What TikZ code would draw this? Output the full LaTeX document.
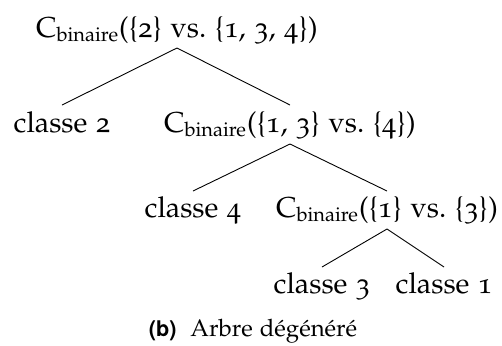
\documentclass[tikz,border=0pt]{standalone}
\usepackage{fontspec}
\newfontfamily\capsans{TeX Gyre Heros}
\usepackage[T1]{fontenc}
\usepackage[osf]{mathpazo}
\begin{document}
\begin{tikzpicture}[x=0.5pt,y=-0.5pt,
  lbl/.style={inner sep=0pt, anchor=base, font=\fontsize{14.4}{17}\selectfont},
  captext/.style={inner sep=0pt, anchor=base, font=\fontsize{12}{14}\selectfont},
  edge/.style={line width=0.45pt}]
\useasboundingbox (0,0) rectangle (502,345);
\newcommand{\cbin}{C$_{\mathrm{binaire}}$}
\node[lbl] (r) at (177,37) {\cbin(\{2\} vs.\ \{1, 3, 4\})};
\node[lbl] (c2) at (62,132) {classe 2};
\node[lbl] (n2) at (290,132) {\cbin(\{1, 3\} vs.\ \{4\})};
\node[lbl] (c4) at (193,217) {classe 4};
\node[lbl] (n3) at (387,217) {\cbin(\{1\} vs.\ \{3\})};
\node[lbl] (c3) at (322,293) {classe 3};
\node[lbl] (c1) at (444,293) {classe 1};
\node[captext] (caption) at (253,336) {{\capsans\bfseries\fontsize{10.8}{13}\selectfont (b)}\ \ Arbre d\'eg\'en\'er\'e};
\draw[edge] ([yshift=-5.5pt]r.base) -- ([yshift=13.5pt]c2.base);
\draw[edge] ([yshift=-5.5pt]r.base) -- ([yshift=13.5pt]n2.base);
\draw[edge] ([yshift=-6pt]n2.base) -- ([yshift=13pt]c4.base);
\draw[edge] ([yshift=-6pt]n2.base) -- ([yshift=13pt]n3.base);
\draw[edge] ([yshift=-6pt]n3.base) -- ([yshift=13pt]c3.base);
\draw[edge] ([yshift=-6pt]n3.base) -- ([yshift=13pt]c1.base);
\end{tikzpicture}
\end{document}
